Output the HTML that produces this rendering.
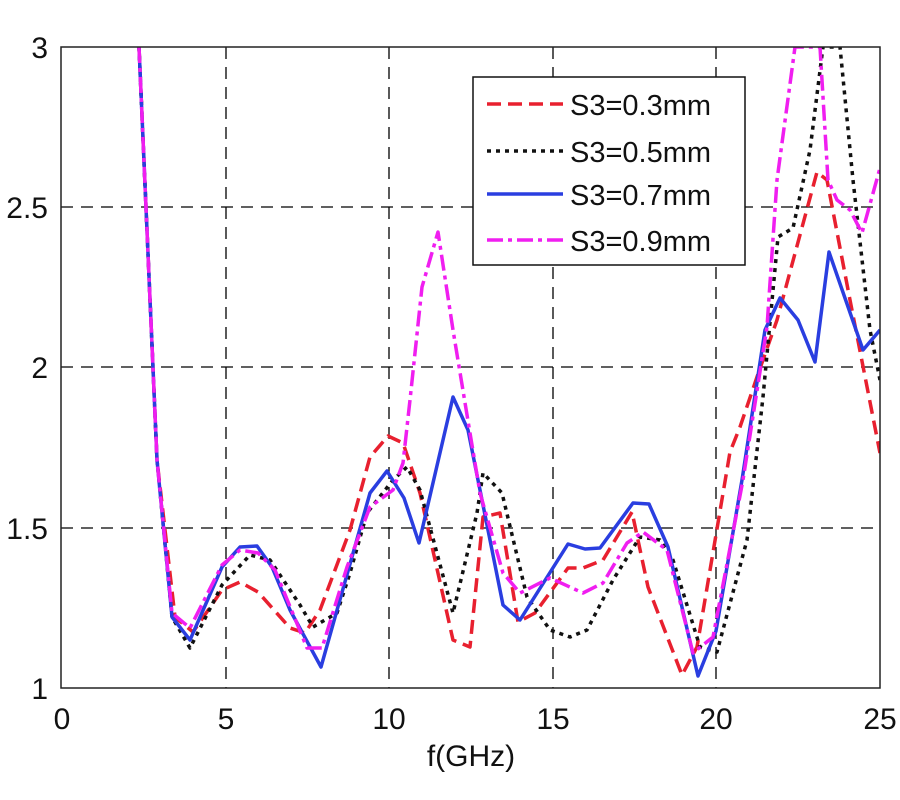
<!DOCTYPE html>
<html><head><meta charset="utf-8"><style>
body{margin:0;background:#fff;}
svg{display:block;font-family:"Liberation Sans",sans-serif;}
</style></head><body>
<svg width="900" height="800" viewBox="0 0 900 800" xmlns="http://www.w3.org/2000/svg">
<defs><clipPath id="c"><rect x="61" y="47" width="819" height="641"/></clipPath></defs>
<rect width="900" height="800" fill="#fff"/>
<g stroke="#000" stroke-width="1.3" stroke-dasharray="12,8" fill="none">
<line x1="226" y1="47" x2="226" y2="688"/><line x1="389" y1="47" x2="389" y2="688"/>
<line x1="553" y1="47" x2="553" y2="688"/><line x1="716" y1="47" x2="716" y2="688"/>
<line x1="61" y1="207" x2="880" y2="207"/><line x1="61" y1="367" x2="880" y2="367"/>
<line x1="61" y1="528" x2="880" y2="528"/>
</g>
<g clip-path="url(#c)" fill="none" stroke-width="3.5" stroke-linejoin="round">
<polyline stroke="#e8202f" stroke-dasharray="14,7" points="139,47 157,460 175,617 193,632 222,590 240,582 258,592 290,628 305,633 320,610 350,530 370,457 388,436 403,443 420,493 453,640 470,647 483,517 500,513 518,622 535,613 568,568 583,568 603,560 632,512 648,587 682,675 697,647 730,452 740,427 757,377 777,320 817,172 827,180 850,300 880,453"/>
<polyline stroke="#111" stroke-dasharray="4,5" points="139,47 157,460 172,617 190,648 222,585 250,555 270,560 300,605 313,627 337,613 350,573 367,513 393,480 407,467 420,490 453,613 477,513 483,473 502,493 527,597 550,630 570,637 587,630 613,580 640,537 660,540 673,560 700,647 717,652 747,540 763,397 778,237 793,228 810,150 823,47 840,47 853,180 870,330 880,380"/>
<polyline stroke="#2a3ee0" points="139,47 157,460 172,617 190,640 222,567 240,547 257,546 272,567 290,610 321,667 370,493 387,471 404,498 419,543 453,397 468,430 503,605 520,620 568,544 585,549 600,548 633,503 649,504 668,547 698,676 716,631 742,480 765,330 780,298 798,320 815,362 829,252 863,350 880,330"/>
<polyline stroke="#f01ef0" stroke-dasharray="16,5,4,5" points="139,47 157,460 172,613 190,628 222,565 240,550 258,553 275,570 307,648 322,648 347,567 370,507 393,490 403,463 410,400 422,287 438,232 453,330 470,433 480,493 503,573 520,593 550,578 583,593 603,583 627,543 643,532 667,550 693,653 713,637 743,480 767,327 777,180 795,47 820,47 828,180 837,200 850,210 862,233 880,168"/>
</g>
<rect x="61" y="47" width="819" height="641" fill="none" stroke="#222" stroke-width="1.5"/>
<g font-size="30" fill="#111" text-anchor="end">
<text x="48" y="58">3</text><text x="48" y="218">2.5</text><text x="48" y="378">2</text><text x="48" y="539">1.5</text><text x="48" y="699">1</text>
</g>
<g font-size="30" fill="#111" text-anchor="middle">
<text x="62" y="729">0</text><text x="226" y="729">5</text><text x="389" y="729">10</text><text x="553" y="729">15</text><text x="716" y="729">20</text><text x="880" y="729">25</text>
<text x="471" y="766">f(GHz)</text>
</g>
<rect x="473" y="77" width="272" height="188" fill="#fff" stroke="#111" stroke-width="1.5"/>
<g stroke-width="3.5">
<line x1="487" y1="104" x2="563" y2="104" stroke="#e8202f" stroke-dasharray="14,7"/>
<line x1="487" y1="151" x2="563" y2="151" stroke="#111" stroke-dasharray="4,5"/>
<line x1="487" y1="194" x2="563" y2="194" stroke="#2a3ee0"/>
<line x1="487" y1="240" x2="563" y2="240" stroke="#f01ef0" stroke-dasharray="16,5,4,5"/>
</g>
<g font-size="29" fill="#111">
<text x="570" y="115">S3=0.3mm</text><text x="570" y="162">S3=0.5mm</text>
<text x="570" y="205">S3=0.7mm</text><text x="570" y="251">S3=0.9mm</text>
</g>
</svg>
</body></html>
